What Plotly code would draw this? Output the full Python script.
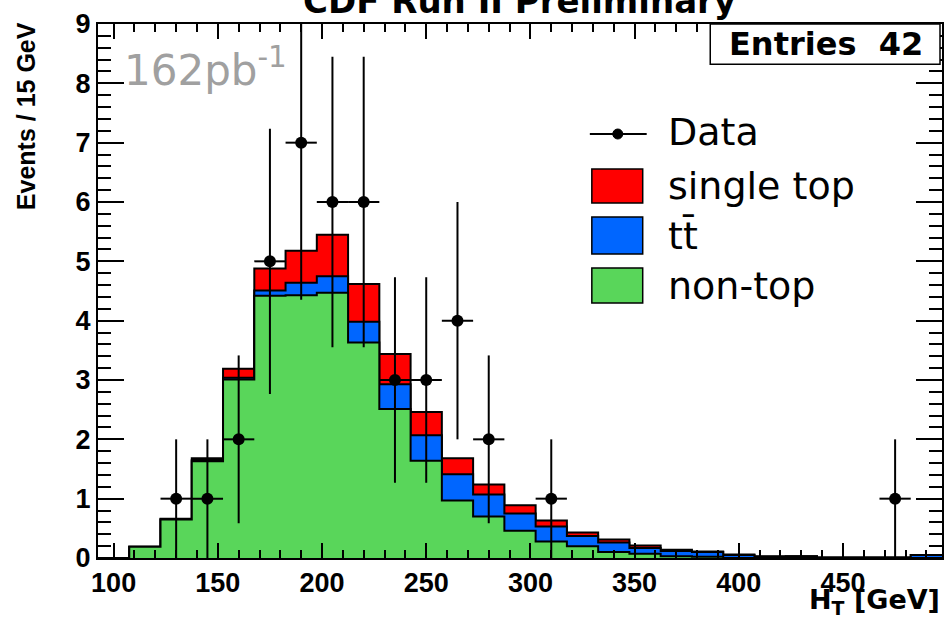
import numpy as np
import plotly.graph_objects as go

# ---------------- data ----------------
bin_centers = [100, 115, 130, 145, 160, 175, 190, 205, 220, 235, 250, 265, 280, 295,
               310, 325, 340, 355, 370, 385, 400, 415, 430, 445, 460, 475, 490]
bin_width = 15

non_top = [0.0, 0.19, 0.65, 1.63, 3.01, 4.42, 4.43, 4.47, 3.63, 2.51, 1.64, 0.97, 0.70, 0.46,
           0.28, 0.20, 0.10, 0.07, 0.03, 0.02, 0.0, 0.0, 0.0, 0.0, 0.0, 0.0, 0.0]
ttbar = [0.0, 0.0, 0.0, 0.02, 0.03, 0.09, 0.21, 0.28, 0.35, 0.42, 0.43, 0.44, 0.37, 0.29,
         0.25, 0.17, 0.16, 0.10, 0.09, 0.08, 0.05, 0.02, 0.03, 0.01, 0.01, 0.01, 0.05]
single_top = [0.0, 0.0, 0.01, 0.03, 0.15, 0.37, 0.54, 0.70, 0.64, 0.51, 0.39, 0.27, 0.17, 0.14,
              0.10, 0.06, 0.05, 0.04, 0.02, 0.01, 0.01, 0.01, 0.0, 0.0, 0.0, 0.0, 0.0]

data_x = [130, 145, 160, 175, 190, 205, 220, 235, 250, 265, 280, 310, 475]
data_y = [1, 1, 2, 5, 7, 6, 6, 3, 3, 4, 2, 1, 1]

x_ticks = [100, 150, 200, 250, 300, 350, 400, 450]
y_ticks = [0, 1, 2, 3, 4, 5, 6, 7, 8, 9]

RED = "#FF0000"
BLUE = "#0066FF"
GREEN = "#59D65A"

# ---------------- geometry helpers ----------------
W, H = 947, 619
ML, MR, MT, MB = 98, 3, 24, 61
PW, PH = W - ML - MR, H - MT - MB


def px(xp):
    return (xp - ML) / PW


def py(yp):
    return (H - MB - yp) / PH


edges = [c - bin_width / 2 for c in bin_centers] + [bin_centers[-1] + bin_width / 2]

g = np.array(non_top)
b = np.array(ttbar)
r = np.array(single_top)
stacks = [(g + b + r, RED, "single top"), (g + b, BLUE, "tt̄"), (g, GREEN, "non-top")]

fig = go.Figure()
for vals, col, name in stacks:
    yy = list(vals) + [vals[-1]]
    fig.add_trace(go.Scatter(x=edges, y=yy, mode="lines", line=dict(shape="hv", color="black", width=2),
                             fill="tozeroy", fillcolor=col, name=name, showlegend=False,
                             hoverinfo="skip"))

fig.add_trace(go.Scatter(
    x=data_x, y=data_y, mode="markers", name="Data", showlegend=False,
    marker=dict(color="black", size=12),
    error_y=dict(type="data", array=list(np.sqrt(data_y)), color="black", thickness=2, width=0),
    error_x=dict(type="constant", value=bin_width / 2, color="black", thickness=2, width=0),
))

FONT_B = "DejaVu Sans"
FONT_T = "Liberation Sans"

fig.update_layout(
    width=W, height=H,
    margin=dict(l=ML, r=MR, t=MT, b=MB),
    paper_bgcolor="white", plot_bgcolor="white",
    showlegend=False,
    xaxis=dict(range=[edges[0], edges[-1]], tickvals=x_ticks, ticktext=[str(v) for v in x_ticks],
               ticks="inside", ticklen=15, tickwidth=1.5, tickcolor="black",
               minor=dict(dtick=10, tick0=100, ticks="inside", ticklen=8, tickwidth=1.5, tickcolor="black"),
               showline=True, linecolor="black", linewidth=2, mirror="allticks",
               showgrid=False, zeroline=False,
               tickfont=dict(family=FONT_T, size=27, color="black", weight="bold")),
    yaxis=dict(range=[0, 9], tickvals=y_ticks, ticktext=[str(v) for v in y_ticks],
               ticks="inside", ticklen=26, tickwidth=1.5, tickcolor="black",
               minor=dict(dtick=0.2, tick0=0, ticks="inside", ticklen=13, tickwidth=1.5, tickcolor="black"),
               showline=True, linecolor="black", linewidth=2, mirror="allticks",
               showgrid=False, zeroline=False,
               tickfont=dict(family=FONT_T, size=27, color="black", weight="bold")),
)

ann = []
# title (partially cut off at the top)
ann.append(dict(text="CDF Run II Preliminary", x=px(520), y=py(1), xref="paper", yref="paper",
                xanchor="center", yanchor="middle", showarrow=False,
                font=dict(family=FONT_B, size=34, color="black", weight="bold")))
# y axis title
ann.append(dict(text="Events / 15 GeV", x=px(26), y=py(116), xref="paper", yref="paper",
                xanchor="center", yanchor="middle", textangle=-90, showarrow=False,
                font=dict(family=FONT_T, size=25, color="black", weight="bold")))
# x axis title
ann.append(dict(text="H<sub>T</sub> [GeV]", x=px(944), y=py(601), xref="paper", yref="paper",
                xanchor="right", yanchor="middle", showarrow=False,
                font=dict(family=FONT_B, size=27, color="black", weight="bold")))
# luminosity
ann.append(dict(text="162pb<sup>-1</sup>", x=px(122), y=py(68), xref="paper", yref="paper",
                xanchor="left", yanchor="middle", showarrow=False,
                font=dict(family=FONT_B, size=42, color="#A0A0A0")))
# Entries box
shapes = [dict(type="rect", xref="paper", yref="paper", x0=px(711.7), x1=px(942), y0=py(64.3), y1=py(24),
               line=dict(color="black", width=1.5), fillcolor="white", layer="above")]
ann.append(dict(text="Entries  42", x=px(828), y=py(44), xref="paper", yref="paper",
                xanchor="center", yanchor="middle", showarrow=False,
                font=dict(family=FONT_B, size=32, color="black", weight="bold")))

# manual legend
shapes.append(dict(type="line", xref="paper", yref="paper", x0=px(591), x1=px(648), y0=py(134), y1=py(134),
                   line=dict(color="black", width=2)))
shapes.append(dict(type="circle", xref="paper", yref="paper", xsizemode="pixel", ysizemode="pixel",
                   xanchor=px(619), yanchor=py(134), x0=-5, x1=5, y0=-5, y1=5,
                   fillcolor="black", line=dict(color="black", width=1)))
legend_boxes = [(169, 203, RED, "single top"), (217, 254, BLUE, "tt\u0304"), (268, 303, GREEN, "non-top")]
for y0, y1, col, name in legend_boxes:
    shapes.append(dict(type="rect", xref="paper", yref="paper", x0=px(593), x1=px(644), y0=py(y1), y1=py(y0),
                       fillcolor=col, line=dict(color="black", width=1.5)))
    ann.append(dict(text=name, x=px(667), y=py((y0 + y1) / 2), xref="paper", yref="paper",
                    xanchor="left", yanchor="middle", showarrow=False,
                    font=dict(family=FONT_B, size=38, color="black")))
ann.append(dict(text="Data", x=px(667), y=py(132), xref="paper", yref="paper",
                xanchor="left", yanchor="middle", showarrow=False,
                font=dict(family=FONT_B, size=38, color="black")))

fig.update_layout(annotations=ann, shapes=shapes)
fig.write_html("out.html")
